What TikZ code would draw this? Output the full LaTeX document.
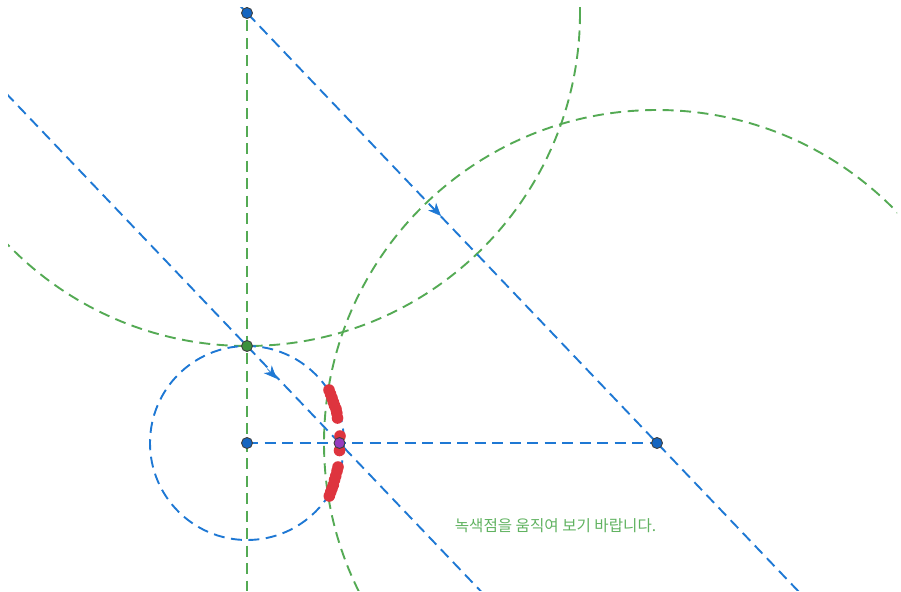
\documentclass[tikz,border=0pt]{standalone}
\usepackage{fontspec}
\newfontfamily\kr{Noto Sans CJK KR}
\usetikzlibrary{calc,arrows.meta}
\definecolor{bl}{RGB}{30,120,212}
\definecolor{gr}{RGB}{84,170,84}
\definecolor{grtext}{RGB}{96,178,96}
\definecolor{rd}{RGB}{222,52,62}
\definecolor{pu}{RGB}{150,60,190}
\definecolor{ptblue}{RGB}{21,101,192}
\definecolor{ptgreen}{RGB}{60,145,60}
\tikzset{
  bline/.style={draw=bl, line width=1.9pt, dash pattern=on 11pt off 6.5pt},
  gline/.style={draw=gr, line width=1.9pt, dash pattern=on 11pt off 6.5pt},
  vecarrow/.style={draw=bl, fill=bl, line width=0.6pt, -{Stealth[length=13pt,width=11pt,inset=4pt]}},
  bpt/.style={circle, inner sep=0pt, minimum size=11pt, fill=ptblue, draw=black!75, line width=0.9pt},
  gpt/.style={circle, inner sep=0pt, minimum size=11pt, fill=ptgreen, draw=black!75, line width=0.9pt},
  ppt/.style={circle, inner sep=0pt, minimum size=11pt, fill=pu, draw=black!75, line width=0.9pt},
  tracedot/.style={fill=rd}
}
\begin{document}
\begin{tikzpicture}[x=1pt,y=-1pt]
\useasboundingbox (0,0) rectangle (901,591);
\coordinate (A) at (247,13);
\coordinate (G) at (247,346);
\coordinate (O) at (247,443);
\coordinate (P) at (657,443);
\coordinate (Q) at (339.5,443);
\coordinate (G2) at ($(G)+(P)-(A)$);
\coordinate (a1b) at (431.5,206);
\coordinate (a1t) at (441,216);
\coordinate (a2b) at (267,368.5);
\coordinate (a2t) at (276.7,378.7);
\begin{scope}
\clip (8,8) rectangle (897,590);
% green construction
\draw[gline] ($(A)!-1!(O)$) -- ($(A)!2!(O)$);
\draw[gline] (A) circle[radius=333];
\draw[gline] (P) circle[radius=333];
% blue construction
\draw[bline] (O) circle[radius=97];
\draw[bline] ($(A)!-1!(P)$) -- ($(A)!2!(P)$);
\draw[bline] ($(G)!-1!(G2)$) -- ($(G)!2!(G2)$);
\draw[bline] (O) -- (P);
\end{scope}
\draw[vecarrow] (a1b) -- (a1t);
\draw[vecarrow] (a2b) -- (a2t);
% trace
\foreach \x/\y in {329/390,330.5/394,332/398,333.3/402,334.5/405.5,336/409,336.8/413,337.5/418,
                   340/436,339.5/450.5,
                   338/467,337/471,335.7/476,334.5/480,333.3/485,332/488.5,330.7/492,329.3/496}
  \fill[tracedot] (\x,\y) circle[radius=5.8];
% points
\node[bpt] (nA) at (A) {};
\node[gpt] (nG) at (G) {};
\node[bpt] (nO) at (O) {};
\node[bpt] (nP) at (P) {};
\node[ppt] (nQ) at (Q) {};
\node[text=grtext, font=\kr\fontsize{15.6pt}{18pt}\selectfont, inner sep=0pt] (msg) at (555.5,526) {녹색점을 움직여 보기 바랍니다.};
\end{tikzpicture}
\end{document}
